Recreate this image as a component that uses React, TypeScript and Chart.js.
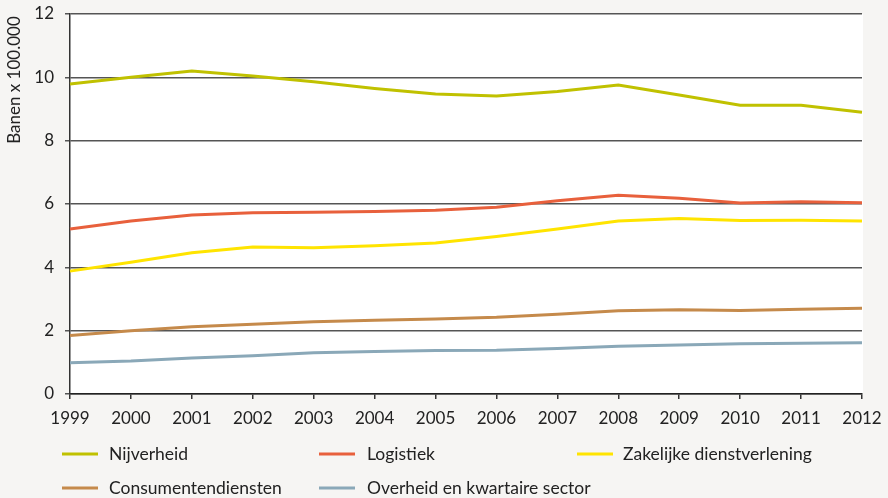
import React, { useEffect, useRef } from "react";
import { Chart, registerables } from "chart.js";

Chart.register(...registerables);

const years = ["1999", "2000", "2001", "2002", "2003", "2004", "2005", "2006", "2007", "2008", "2009", "2010", "2011", "2012"];
const nijverheid = [9.79, 10.0, 10.2, 10.04, 9.86, 9.65, 9.47, 9.41, 9.55, 9.76, 9.44, 9.12, 9.12, 8.9];
const logistiek = [5.21, 5.46, 5.65, 5.72, 5.74, 5.76, 5.8, 5.9, 6.1, 6.28, 6.18, 6.03, 6.07, 6.04];
const zakelijke = [3.88, 4.16, 4.46, 4.64, 4.62, 4.68, 4.77, 4.97, 5.21, 5.46, 5.54, 5.48, 5.49, 5.46];
const consumenten = [1.85, 2.0, 2.12, 2.2, 2.28, 2.33, 2.37, 2.42, 2.52, 2.63, 2.66, 2.64, 2.68, 2.71];
const overheid = [0.99, 1.04, 1.14, 1.21, 1.3, 1.34, 1.37, 1.38, 1.44, 1.51, 1.55, 1.59, 1.6, 1.62];

const seriesNames = ["Nijverheid", "Logistiek", "Zakelijke dienstverlening", "Consumentendiensten", "Overheid en kwartaire sector"];
const seriesColors = ["#c0c100", "#e8603c", "#ffe400", "#c58a4b", "#8aa8b8"];
const yTitle = "Banen x 100.000";

const FONT = "Lato, 'Open Sans', sans-serif";
const TEXT = "#222222";

export default function App() {
  const ref = useRef<HTMLCanvasElement | null>(null);

  useEffect(() => {
    document.body.style.margin = "0";
    if (!ref.current) return;
    const values = [nijverheid, logistiek, zakelijke, consumenten, overheid];

    const bgPlugin = {
      id: "bg",
      beforeDraw(chart: any) {
        const { ctx, chartArea } = chart;
        ctx.save();
        ctx.fillStyle = "#f6f5f3";
        ctx.fillRect(0, 0, chart.width, chart.height);
        ctx.fillStyle = "#ffffff";
        ctx.fillRect(chartArea.left, chartArea.top, chartArea.right - chartArea.left + 1, chartArea.bottom - chartArea.top);
        ctx.restore();
      },
    };

    const legendPlugin = {
      id: "customLegend",
      afterDraw(chart: any) {
        const { ctx } = chart;
        const cols = [
          { lx: 62, lw: 36, tx: 109 },
          { lx: 319, lw: 36, tx: 367 },
          { lx: 577, lw: 36, tx: 623 },
        ];
        const rows = [454, 488];
        ctx.save();
        ctx.font = `17.5px ${FONT}`;
        ctx.textBaseline = "middle";
        ctx.textAlign = "left";
        seriesNames.forEach((name, i) => {
          const c = cols[i % 3];
          const y = rows[Math.floor(i / 3)];
          ctx.strokeStyle = seriesColors[i];
          ctx.lineWidth = 3;
          ctx.beginPath();
          ctx.moveTo(c.lx, y);
          ctx.lineTo(c.lx + c.lw, y);
          ctx.stroke();
          ctx.fillStyle = TEXT;
          ctx.fillText(name, c.tx, y);
        });
        // y axis title
        ctx.translate(15, 80);
        ctx.rotate(-Math.PI / 2);
        ctx.textAlign = "center";
        ctx.font = `17px ${FONT}`;
        ctx.fillText(yTitle, 0, 0);
        ctx.restore();
      },
    };

    const chart = new Chart(ref.current, {
      type: "line",
      data: {
        labels: years,
        datasets: seriesNames.map((name, i) => ({
          label: name,
          data: values[i],
          borderColor: seriesColors[i],
          backgroundColor: seriesColors[i],
          borderWidth: 3,
          pointRadius: 0,
          tension: 0,
          fill: false,
        })),
      },
      options: {
        animation: false,
        responsive: true,
        maintainAspectRatio: false,
        layout: { padding: { left: 0, right: 26, top: 14, bottom: 74 } },
        plugins: { legend: { display: false }, tooltip: { enabled: false } },
        scales: {
          x: {
            offset: false,
            afterFit(scale: any) {
              scale.height = 30;
              scale.paddingLeft = 0;
              scale.paddingRight = 0;
            },
            grid: { drawOnChartArea: false, drawTicks: true, tickLength: 5, color: "#333", lineWidth: 1.5 },
            border: { display: true, color: "#222", width: 1.5 },
            ticks: { color: TEXT, font: { family: FONT, size: 17 }, padding: 9, maxRotation: 0, autoSkip: false },
          },
          y: {
            min: 0,
            max: 12,
            afterFit(scale: any) {
              scale.width = 70;
              scale.paddingTop = 0;
              scale.paddingBottom = 0;
            },
            grid: { color: "#555", lineWidth: 1.5, drawTicks: true, tickLength: 5 },
            border: { display: true, color: "#333", width: 1.5 },
            ticks: { stepSize: 2, color: TEXT, font: { family: FONT, size: 17 }, padding: 11 },
          },
        },
      },
      plugins: [bgPlugin, legendPlugin],
    });
    return () => chart.destroy();
  }, []);

  return (
    <div style={{ width: 888, height: 498, position: "relative", background: "#f6f5f3" }}>
      <canvas ref={ref} />
    </div>
  );
}
